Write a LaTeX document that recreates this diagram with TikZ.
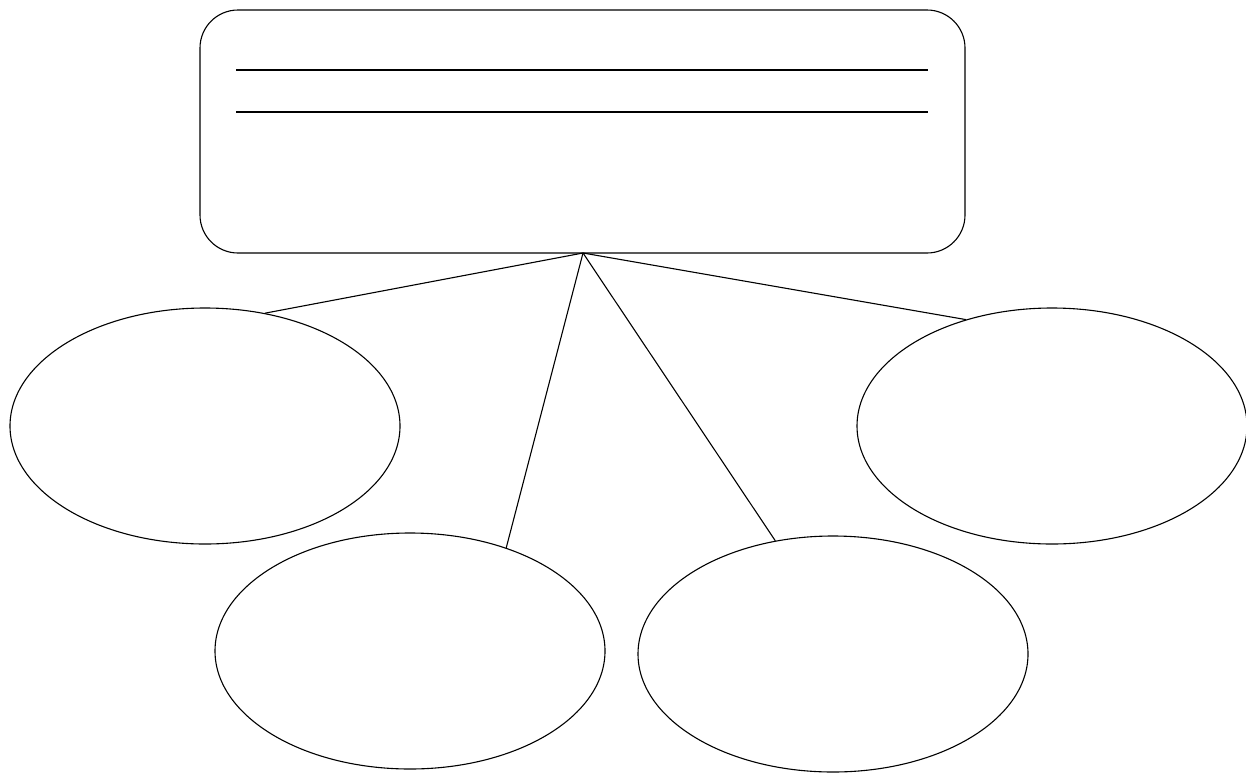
\documentclass[tikz,border=0pt]{standalone}
\usetikzlibrary{shapes.geometric}
\begin{document}
\begin{tikzpicture}[x=1pt,y=-1pt,
  bubble/.style={draw,ellipse,line width=1.1pt,minimum width=390pt,minimum height=236pt,inner sep=0pt},
  conn/.style={draw,line width=1.1pt},
  blank/.style={draw,line width=1.4pt}]
\useasboundingbox (0,0) rectangle (1246,774);
\node[draw,line width=1.1pt,rounded corners=38pt,minimum width=765pt,minimum height=243pt,inner sep=0pt] (box) at (582.5,131.5) {};
\draw[blank] (236,70) -- (928,70);
\draw[blank] (236,112) -- (928,112);
\coordinate (hub) at (583,253);
\node[bubble] (e1) at (205,426) {};
\node[bubble] (e2) at (410,651) {};
\node[bubble] (e3) at (833,654) {};
\node[bubble] (e4) at (1052,426) {};
\draw[conn] (hub) -- (e1.62);
\draw[conn] (hub) -- (e2.47.5);
\draw[conn] (hub) -- (e3.117);
\draw[conn] (hub) -- (e4.129);
\end{tikzpicture}
\end{document}
